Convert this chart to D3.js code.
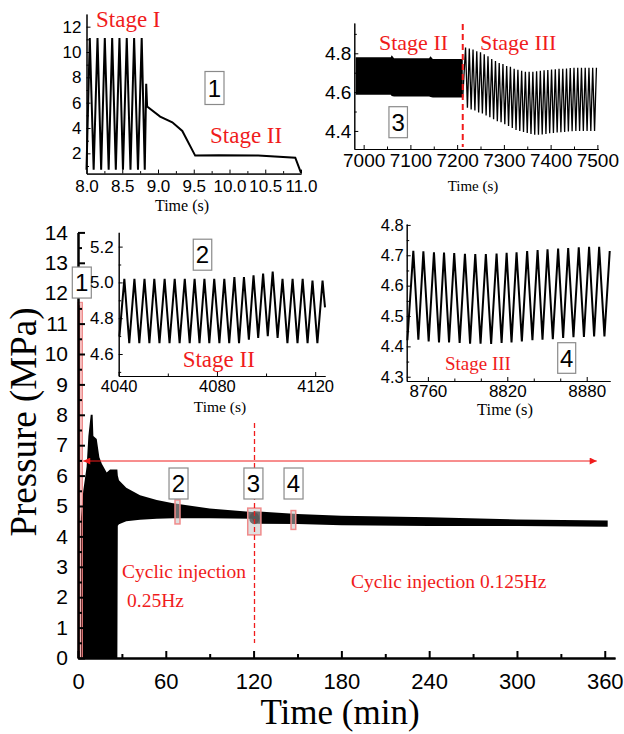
<!DOCTYPE html>
<html>
<head>
<meta charset="utf-8">
<script src="https://cdn.jsdelivr.net/npm/d3@7"></script>
<style>
  body { margin: 0; background: #fff; }
</style>
</head>
<body>
<div id="chart"></div>
<script>
// ---------- data ----------
// main record: envelope of the pressure trace (time in min, pressure in MPa)
var mainTime  = [2, 3.6, 5.9, 7.1, 8.7, 10, 10.5, 12.8, 14.6, 16.2, 19.6, 21.9, 26.9, 27.2, 28, 33, 42.4, 53.8, 65, 90, 119, 121, 150, 180, 240, 300, 362];
var mainUpper = [4.6, 5.5, 6.3, 7.3, 8.0, 8.0, 7.3, 7.2, 6.6, 6.4, 6.1, 6.2, 6.2, 6.0, 5.85, 5.6, 5.35, 5.2, 5.09, 4.92, 4.8, 4.83, 4.74, 4.68, 4.63, 4.56, 4.52];
var mainLower = [0, 0, 0, 0, 0, 0, 0, 0, 0, 0, 0, 0, 0, 4.35, 4.4, 4.5, 4.55, 4.58, 4.6, 4.6, 4.58, 4.42, 4.41, 4.37, 4.34, 4.34, 4.32];
var mainXTicks = [0, 60, 120, 180, 240, 300, 360];
var mainXMinor = [30, 90, 150, 210, 270, 330];
var mainYTicks = [0, 1, 2, 3, 4, 5, 6, 7, 8, 9, 10, 11, 12, 13, 14];
var mainYMinor = [0.5, 1.5, 2.5, 3.5, 4.5, 5.5, 6.5, 7.5, 8.5, 9.5, 10.5, 11.5, 12.5, 13.5];

// inset 1: stage I -> stage II (s, MPa)
var ins1Time = [8.0, 8.046, 8.10, 8.154, 8.205, 8.256, 8.31, 8.359, 8.41, 8.461, 8.51, 8.563, 8.615, 8.666, 8.72, 8.772, 8.815, 8.835, 8.848, 9.03, 9.20, 9.34, 9.52, 9.85, 10.4, 10.92, 11.0];
var ins1P    = [0.7, 11.1, 0.7, 11.1, 0.7, 11.1, 0.7, 11.1, 0.7, 11.1, 0.7, 11.1, 0.7, 11.1, 0.7, 11.1, 0.7, 7.5, 5.7, 4.9, 4.45, 3.77, 1.82, 1.85, 1.83, 1.66, 0.45];
var ins1XTicks = [8.0, 8.5, 9.0, 9.5, 10.0, 10.5, 11.0];
var ins1XMinor = [8.25, 8.75, 9.25, 9.75, 10.25, 10.75];
var ins1YTicks = [2, 4, 6, 8, 10, 12];
var ins1YMinor = [1, 3, 5, 7, 9, 11];

// inset 2: stage II around 4040-4124 s
var ins2Start = [4040.3, 4.70];
var ins2PeakT = [4042.3, 4046.4, 4050.5, 4054.5, 4058.7, 4062.8, 4066.9, 4070.9, 4074.9, 4078.9, 4083.0, 4087.1, 4091.0, 4094.9, 4098.8, 4102.7, 4106.7, 4110.8, 4114.9, 4118.9, 4123.0];
var ins2PeakP = [5.02, 5.02, 5.02, 5.02, 5.02, 5.02, 5.02, 5.02, 5.02, 5.02, 5.02, 5.03, 5.03, 5.04, 5.05, 5.06, 5.02, 5.02, 5.02, 5.01, 5.01];
var ins2TroughT = [4044.3, 4048.4, 4052.5, 4056.6, 4060.7, 4064.8, 4068.9, 4072.9, 4076.9, 4081.0, 4085.0, 4089.0, 4093.0, 4096.8, 4100.7, 4104.7, 4108.7, 4112.8, 4116.9, 4120.9];
var ins2TroughP = [4.66, 4.66, 4.66, 4.66, 4.66, 4.66, 4.66, 4.66, 4.66, 4.66, 4.66, 4.66, 4.68, 4.69, 4.70, 4.69, 4.66, 4.66, 4.66, 4.66];
var ins2End = [4124, 4.86];
var ins2XTicks = [4040, 4080, 4120];
var ins2XMinor = [4060, 4100];
var ins2YTicks = [4.6, 4.8, 5.0, 5.2];
var ins2YMinor = [4.5, 4.7, 4.9, 5.1];

// inset 3: stage II band, then stage III (6980-7500 s)
var ins3BandT  = [6983, 7058, 7060, 7065, 7140, 7143, 7148, 7212];
var ins3BandHi = [4.78, 4.78, 4.79, 4.775, 4.775, 4.785, 4.77, 4.77];
var ins3BandLo = [4.586, 4.586, 4.58, 4.578, 4.578, 4.575, 4.572, 4.572];
var ins3Start = [7212, 4.572];
var ins3PeakT = [7218, 7226, 7234, 7242, 7250, 7258, 7266, 7274, 7282, 7290, 7298, 7306, 7314, 7322, 7330, 7338, 7346, 7354, 7362, 7370, 7378, 7386, 7394, 7402, 7410, 7418, 7426, 7434, 7442, 7450, 7458, 7466, 7474, 7482, 7490, 7498];
var ins3PeakP = [4.83, 4.825, 4.82, 4.81, 4.805, 4.795, 4.785, 4.77, 4.76, 4.75, 4.745, 4.735, 4.73, 4.72, 4.715, 4.71, 4.705, 4.705, 4.705, 4.708, 4.71, 4.712, 4.714, 4.716, 4.718, 4.72, 4.72, 4.722, 4.724, 4.725, 4.725, 4.726, 4.726, 4.726, 4.726, 4.726];
var ins3TroughT = [7222, 7230, 7238, 7246, 7254, 7262, 7270, 7278, 7286, 7294, 7302, 7310, 7318, 7326, 7334, 7342, 7350, 7358, 7366, 7374, 7382, 7390, 7398, 7406, 7414, 7422, 7430, 7438, 7446, 7454, 7462, 7470, 7478, 7486, 7494];
var ins3TroughP = [4.52, 4.51, 4.505, 4.495, 4.49, 4.48, 4.47, 4.46, 4.45, 4.445, 4.435, 4.425, 4.415, 4.405, 4.4, 4.395, 4.39, 4.385, 4.38, 4.38, 4.382, 4.385, 4.388, 4.39, 4.392, 4.394, 4.395, 4.397, 4.398, 4.4, 4.4, 4.4, 4.4, 4.4, 4.4];
var ins3Switch = 7212;
var ins3XTicks = [7000, 7100, 7200, 7300, 7400, 7500];
var ins3XMinor = [7050, 7150, 7250, 7350, 7450];
var ins3YTicks = [4.4, 4.6, 4.8];
var ins3YMinor = [4.5, 4.7, 4.9];

// inset 4: stage III around 8744-8897 s
var ins4Start = [8744.5, 4.42];
var ins4PeakT = [8749, 8756.6, 8764.6, 8772.2, 8779.9, 8788, 8795.8, 8803.8, 8811.9, 8819.5, 8827, 8835, 8842.9, 8850.4, 8858.4, 8866, 8874, 8881.8, 8889.4, 8897.4];
var ins4PeakP = [4.715, 4.713, 4.71, 4.709, 4.707, 4.705, 4.704, 4.704, 4.706, 4.708, 4.71, 4.714, 4.717, 4.72, 4.722, 4.724, 4.726, 4.728, 4.728, 4.714];
var ins4TroughT = [8752.8, 8760.6, 8768.4, 8776, 8784, 8791.9, 8799.8, 8807.8, 8815.7, 8823.2, 8831, 8839, 8846.6, 8854.4, 8862.2, 8870, 8877.9, 8885.6, 8893.4];
var ins4TroughP = [4.422, 4.416, 4.413, 4.413, 4.411, 4.409, 4.409, 4.408, 4.411, 4.413, 4.416, 4.42, 4.422, 4.424, 4.428, 4.43, 4.431, 4.433, 4.433];
var ins4XTicks = [8760, 8820, 8880];
var ins4XMinor = [8780, 8800, 8840, 8860];
var ins4YTicks = [4.3, 4.4, 4.5, 4.6, 4.7, 4.8];
var ins4YMinor = [4.35, 4.45, 4.55, 4.65, 4.75];

// ---------- drawing ----------
var sans = "'Liberation Sans', Arial, Helvetica, sans-serif";
var serif = "'Liberation Serif', 'Times New Roman', Times, serif";
var red = "#f01c1c";

var svg = d3.select("#chart").append("svg")
    .attr("width", 624)
    .attr("height", 734)
    .style("background", "#fff");

function zigzag(start, pT, pP, tT, tP, end) {
    var pts = [start];
    for (var i = 0; i < pT.length; i++) {
        pts.push([pT[i], pP[i]]);
        if (i < tT.length) pts.push([tT[i], tP[i]]);
    }
    if (end) pts.push(end);
    return pts;
}

// axes with inward major and minor ticks, left and bottom spines only
function drawAxes(x, y, o) {
    var gx = svg.append("g").attr("transform", `translate(0,${y.range()[0]})`);
    gx.call(d3.axisBottom(x).tickValues(o.xMinor).tickSize(-o.minor).tickSizeOuter(0).tickFormat(""));
    var gxm = gx.append("g")
        .call(d3.axisBottom(x).tickValues(o.xMajor).tickSize(-o.major).tickSizeOuter(0)
            .tickPadding(o.xPad).tickFormat(o.fx));
    gxm.attr("font-size", o.fs).attr("font-family", sans);

    var gy = svg.append("g").attr("transform", `translate(${x.range()[0]},0)`);
    gy.call(d3.axisLeft(y).tickValues(o.yMinor).tickSize(-o.minor).tickSizeOuter(0).tickFormat(""));
    var gym = gy.append("g")
        .call(d3.axisLeft(y).tickValues(o.yMajor).tickSize(-o.major).tickSizeOuter(0)
            .tickPadding(o.yPad).tickFormat(o.fy));
    gym.attr("font-size", o.fsy || o.fs).attr("font-family", sans);

    [gx, gy].forEach(function(g) {
        g.selectAll("path, line").attr("stroke", "#000").attr("stroke-width", o.sw);
        g.selectAll("text").attr("fill", "#000");
    });
}

function boxLabel(cx, cy, w, h, txt, fs) {
    svg.append("rect")
        .attr("x", cx - w / 2).attr("y", cy - h / 2)
        .attr("width", w).attr("height", h)
        .attr("fill", "#fff").attr("stroke", "#8a8a8a").attr("stroke-width", 1.2);
    svg.append("text")
        .attr("x", cx).attr("y", cy + fs * 0.36)
        .attr("text-anchor", "middle")
        .attr("font-family", sans).attr("font-size", fs)
        .text(txt);
}

function label(x, yy, txt, fs, color, font, anchor) {
    return svg.append("text")
        .attr("x", x).attr("y", yy)
        .attr("text-anchor", anchor || "start")
        .attr("font-family", font || serif)
        .attr("font-size", fs)
        .attr("fill", color || "#000")
        .text(txt);
}

// ===== main chart =====
var x = d3.scaleLinear().domain([0, 367]).range([78, 615]);
var y = d3.scaleLinear().domain([0, 14]).range([658, 232.4]);

var mainData = mainTime.map(function(t, i) { return { t: t, hi: mainUpper[i], lo: mainLower[i] }; });

svg.append("path")
    .datum(mainData)
    .attr("fill", "#000")
    .attr("d", d3.area().x(d => x(d.t)).y0(d => y(d.lo)).y1(d => y(d.hi)));

// stage I highlight
svg.append("rect")
    .attr("x", x(0)).attr("y", y(11.7))
    .attr("width", x(3) - x(0)).attr("height", y(0) - y(11.7))
    .attr("fill", "rgba(235,90,90,0.38)").attr("stroke", "#ec8080").attr("stroke-width", 1);
svg.append("line")
    .attr("x1", x(0.6)).attr("x2", x(0.6)).attr("y1", y(0)).attr("y2", y(11.6))
    .attr("stroke", "#8b1010").attr("stroke-width", 1.6);

// highlight boxes for insets 2-4
[[66.3, 69.7, 4.41, 5.2], [116, 125, 4.05, 4.93], [145.6, 148.8, 4.23, 4.85]].forEach(function(b) {
    svg.append("rect")
        .attr("x", x(b[0])).attr("y", y(b[3]))
        .attr("width", x(b[1]) - x(b[0])).attr("height", y(b[2]) - y(b[3]))
        .attr("fill", "#c4c4c4").attr("fill-opacity", 0.55)
        .attr("stroke", "#f08a8a").attr("stroke-width", 1.5);
});
svg.append("ellipse")
    .attr("cx", x(120.5)).attr("cy", y(4.6)).attr("rx", 5).attr("ry", 6)
    .attr("fill", "#555").attr("opacity", 0.8);

// dashed line at stage II / III switch
svg.append("line")
    .attr("x1", Math.round(x(120)) + 0.5).attr("x2", Math.round(x(120)) + 0.5)
    .attr("y1", y(7.73)).attr("y2", y(0.49))
    .attr("stroke", red).attr("stroke-width", 1.3).attr("stroke-dasharray", "5,3");

// double arrow
var defs = svg.append("defs");
defs.append("marker").attr("id", "arr").attr("viewBox", "0 0 10 10")
    .attr("refX", 10).attr("refY", 5).attr("markerWidth", 10).attr("markerHeight", 7)
    .attr("markerUnits", "userSpaceOnUse").attr("orient", "auto-start-reverse")
    .append("path").attr("d", "M0,0L10,5L0,10z").attr("fill", red);
svg.append("line")
    .attr("x1", x(3.6)).attr("x2", x(354.5)).attr("y1", y(6.48)).attr("y2", y(6.48))
    .attr("stroke", red).attr("stroke-width", 1)
    .attr("marker-start", "url(#arr)").attr("marker-end", "url(#arr)");

drawAxes(x, y, {
    xMajor: mainXTicks, xMinor: mainXMinor, yMajor: mainYTicks, yMinor: mainYMinor,
    major: 7, minor: 4, sw: 2, fs: 22, fsy: 21, xPad: 15, yPad: 10,
    fx: d3.format("d"), fy: d3.format("d")
});

boxLabel(x(2.6), y(12.35), 19, 31, "1", 24);
boxLabel(x(68.7), y(5.74), 19, 31, "2", 24);
boxLabel(x(119.9), y(5.74), 19, 31, "3", 24);
boxLabel(x(147.3), y(5.74), 19, 31, "4", 24);

label(122, 578, "Cyclic injection", 19.5, red);
label(127, 607, "0.25Hz", 19.5, red);
label(351, 588, "Cyclic injection 0.125Hz", 19.5, red);

label(340, 724, "Time (min)", 35, "#000", serif, "middle");
svg.append("text")
    .attr("transform", "translate(36,422) rotate(-90)")
    .attr("text-anchor", "middle")
    .attr("font-family", serif).attr("font-size", 37)
    .text("Pressure (MPa)");

var line = function(xs, ys) { return d3.line().x(d => xs(d[0])).y(d => ys(d[1])); };

// ===== inset 1 =====
var x1 = d3.scaleLinear().domain([8, 11]).range([86.5, 301]);
var y1 = d3.scaleLinear().domain([0.4, 13]).range([173.6, 14]);
svg.append("path")
    .datum(d3.zip(ins1Time, ins1P))
    .attr("fill", "none").attr("stroke", "#000").attr("stroke-width", 2).attr("stroke-linejoin", "miter")
    .attr("d", line(x1, y1));
drawAxes(x1, y1, {
    xMajor: ins1XTicks, xMinor: ins1XMinor, yMajor: ins1YTicks, yMinor: ins1YMinor,
    major: 4, minor: 2.5, sw: 1, fs: 17, xPad: 6, yPad: 5,
    fx: d3.format(".1f"), fy: d3.format("d")
});
label(96, 26.7, "Stage I", 23, red);
label(210, 143, "Stage II", 23, red);
boxLabel(214.5, 88, 19, 33, "1", 24);
label(182, 211, "Time (s)", 16, "#000", serif, "middle");

// ===== inset 3 =====
var x3 = d3.scaleLinear().domain([6980, 7502]).range([354.3, 598.3]);
var y3 = d3.scaleLinear().domain([4.307, 4.956]).range([149, 23]);
svg.append("path")
    .datum(d3.zip(ins3BandT, ins3BandHi, ins3BandLo))
    .attr("fill", "#000")
    .attr("d", d3.area().x(d => x3(d[0])).y0(d => y3(d[2])).y1(d => y3(d[1])));
svg.append("path")
    .datum(zigzag(ins3Start, ins3PeakT, ins3PeakP, ins3TroughT, ins3TroughP))
    .attr("fill", "none").attr("stroke", "#000").attr("stroke-width", 1.3)
    .attr("d", line(x3, y3));
svg.append("line")
    .attr("x1", x3(ins3Switch)).attr("x2", x3(ins3Switch)).attr("y1", 24).attr("y2", 147)
    .attr("stroke", red).attr("stroke-width", 2).attr("stroke-dasharray", "6,4");
drawAxes(x3, y3, {
    xMajor: ins3XTicks, xMinor: ins3XMinor, yMajor: ins3YTicks, yMinor: ins3YMinor,
    major: 4, minor: 2.5, sw: 1, fs: 19, xPad: 5, yPad: 3,
    fx: d3.format("d"), fy: d3.format(".1f")
});
label(379, 50, "Stage II", 22, red);
label(480, 50, "Stage III", 22, red);
boxLabel(398.2, 122.2, 18.5, 31, "3", 24);
label(473, 191, "Time (s)", 15, "#000", serif, "middle");

// ===== inset 2 =====
var x2 = d3.scaleLinear().domain([4040, 4124]).range([118.7, 325]);
var y2 = d3.scaleLinear().domain([4.477, 5.28]).range([376, 232.3]);
svg.append("path")
    .datum(zigzag(ins2Start, ins2PeakT, ins2PeakP, ins2TroughT, ins2TroughP, ins2End))
    .attr("fill", "none").attr("stroke", "#000").attr("stroke-width", 2)
    .attr("d", line(x2, y2));
drawAxes(x2, y2, {
    xMajor: ins2XTicks, xMinor: ins2XMinor, yMajor: ins2YTicks, yMinor: ins2YMinor,
    major: 4, minor: 2.5, sw: 1, fs: 16.5, fsy: 17, xPad: 4, yPad: 5,
    fx: d3.format("d"), fy: d3.format(".1f")
});
label(182.7, 366.7, "Stage II", 23, red);
boxLabel(202.5, 254.7, 18.5, 31, "2", 24);
label(220, 412, "Time (s)", 15.5, "#000", serif, "middle");

// ===== inset 4 =====
var x4 = d3.scaleLinear().domain([8744, 8897.6]).range([406.7, 610]);
var y4 = d3.scaleLinear().domain([4.286, 4.803]).range([381, 224]);
svg.append("path")
    .datum(zigzag(ins4Start, ins4PeakT, ins4PeakP, ins4TroughT, ins4TroughP))
    .attr("fill", "none").attr("stroke", "#000").attr("stroke-width", 2)
    .attr("d", line(x4, y4));
drawAxes(x4, y4, {
    xMajor: ins4XTicks, xMinor: ins4XMinor, yMajor: ins4YTicks, yMinor: ins4YMinor,
    major: 4, minor: 2.5, sw: 1, fs: 17, fsy: 16.5, xPad: 4, yPad: 3,
    fx: d3.format("d"), fy: d3.format(".1f")
});
label(445, 370, "Stage III", 19, red);
boxLabel(566.7, 358, 18, 30.6, "4", 24);
label(505, 415, "Time (s)", 16.5, "#000", serif, "middle");
</script>
</body>
</html>
